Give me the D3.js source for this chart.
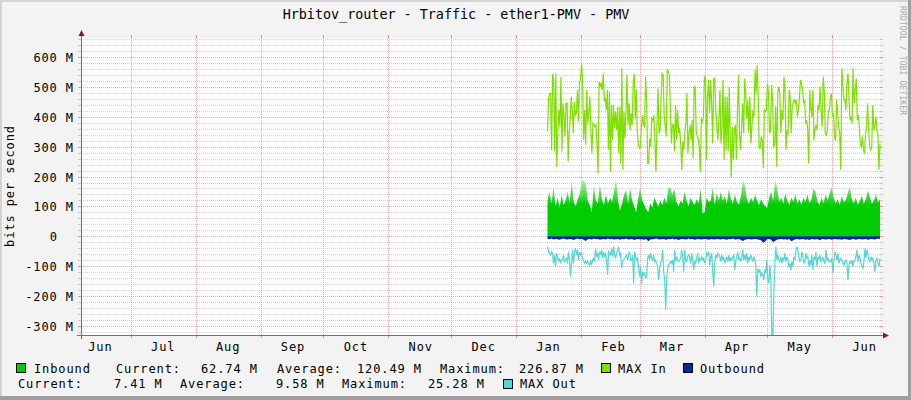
<!DOCTYPE html>
<html><head><meta charset="utf-8">
<script src="https://cdn.jsdelivr.net/npm/d3@7"></script>
<style>
html,body{margin:0;padding:0;background:#f3f3f3;}
svg{display:block;}
text{font-family:"DejaVu Sans Mono",monospace;white-space:pre;}
</style></head><body>
<svg id="c" width="911" height="400"></svg>
<script>
const title = "Hrbitov_router - Traffic - ether1-PMV - PMV";
const yAxisTitle = "bits per second";
const watermark = "RRDTOOL / TOBI OETIKER";
const timeStart = "2018-06-07T05:14:00Z";
const timeEnd = "2019-06-23T19:00:00Z";
const dataStart = "2019-01-16T00:00:00Z";
const dataEnd = "2019-06-23T19:00:00Z";
const yMin = -331.3, yMax = 664.6;           // M bits/s
const yMajorTicks = [-300,-200,-100,0,100,200,300,400,500,600];
const yMinorStep = 20;

// Inbound (M), evenly spaced from dataStart to dataEnd
const inbound = [120,150,110,165,100,130,95,140,105,120,150,110,190,115,100,125,140,190,185,175,
120,105,80,170,120,110,175,125,105,140,110,130,115,150,190,120,85,110,140,155,
110,165,120,100,80,125,165,120,105,90,80,110,95,130,115,100,120,105,130,110,
165,160,140,160,115,100,120,110,150,120,100,130,115,105,125,110,160,75,80,130,
115,120,165,105,145,120,
150,120,135,110,160,125,110,140,115,105,135,190,170,120,110,130,115,140,120,105,
125,110,100,95,130,150,120,190,160,115,130,110,145,120,105,130,115,140,110,125,
105,130,115,140,110,125,160,150,115,105,130,110,140,120,145,165,130,110,125,105,
135,115,120,145,165,125,110,130,105,120,135,110,125,155,130,110,120,140,115,125];

// MAX In (M)
const maxIn = [351,459,479,479,289,544,524,284,546,233,345,423,367,535,284,446,406,334,446,446,
250,345,390,468,423,345,451,406,412,490,384,518,524,580,518,323,423,306,490,379,
412,468,356,278,379,373,367,373,306,211,518,501,513,490,546,457,462,423,490,289,
485,216,440,323,440,362,418,356,434,278,434,244,563,222,418,328,418,541,373,446,
356,412,373,518,544,395,490,345,311,295,300,367,406,373,367,535,457,244,244,328,
300,395,390,406,323,216,373,496,345,356,462,546,541,406,367,334,557,552,541,434,
311,373,373,284,440,323,423,345,362,311,222,317,289,345,379,479,278,345,373,323,
390,261,501,501,351,334,328,300,216,395,384,401,535,529,256,468,524,412,524,446,
311,529,529,423,
367,323,390,490,311,362,524,256,468,289,468,284,501,334,194,367,256,356,373,256,
429,541,345,289,362,446,345,529,479,395,457,345,468,311,367,423,401,557,479,574,
479,295,295,334,323,228,423,418,423,513,485,345,356,507,457,300,306,434,233,485,
501,479,345,423,390,535,490,289,351,345,490,468,345,434,446,457,446,457,401,423,
462,524,513,490,446,457,379,390,356,244,490,429,401,490,323,356,373,356,440,423,
501,418,367,535,490,345,339,356,418,423,468,479,401,412,328,323,457,412,367,345,
222,563,513,457,457,423,513,546,457,390,401,379,563,446,490,529,390,406,367,306,
300,334,289,278,345,367,446,356,300,289,300,440,356,367,401,356,345,222,311];

// Outbound (M, drawn below zero)
const outbound = [9,10,8,11,9,10,12,9,8,10,11,9,10,13,9,8,10,9,12,16,
10,9,11,8,10,9,12,10,9,11,8,10,9,11,10,9,12,9,10,8,
11,10,9,13,10,9,11,10,12,9,17,11,10,9,8,10,11,9,10,12,
9,10,8,11,9,13,10,9,10,11,8,10,9,12,10,9,11,10,9,10,
12,9,10,11,9,10,
11,9,10,12,9,10,8,11,10,9,13,16,12,10,9,11,10,9,10,12,
14,22,18,10,9,12,20,15,11,10,9,11,10,12,9,17,14,10,9,11,
10,9,12,10,13,9,10,11,9,14,10,9,11,10,9,12,10,9,11,10,
12,9,10,11,13,10,9,12,10,9,11,10,9,12,10,9,11,10,8,9];

// MAX Out (M, drawn below zero)
const maxOut = [35,52,57,63,52,57,91,63,102,57,69,85,74,91,80,80,63,85,80,74,
91,52,80,136,91,46,91,52,41,63,46,80,52,63,57,74,80,91,85,91,
85,91,97,85,97,80,74,85,41,69,57,80,52,63,46,74,52,69,57,80,
130,52,57,63,41,69,35,63,74,57,46,35,63,57,108,85,80,74,69,63,
80,63,52,80,80,63,158,52,69,80,74,108,136,102,158,119,130,124,141,130,
74,63,80,57,74,80,63,85,80,91,102,147,108,91,80,46,119,147,247,147,
108,97,91,85,91,80,119,46,85,69,80,85,80,74,46,69,119,46,80,85,
69,63,69,91,57,80,113,85,91,74,57,91,74,80,69,80,74,91,80,57,
63,52,97,69,57,124,169,91,63,74,57,63,69,
85,63,80,69,91,80,69,85,63,85,74,80,69,63,113,85,69,52,80,69,
85,74,46,80,63,80,57,91,69,80,63,74,85,69,80,97,203,108,119,113,
136,124,130,147,113,124,80,147,158,97,147,337,337,192,91,35,80,63,80,85,
69,91,74,80,57,85,69,80,102,91,113,85,102,69,80,52,35,46,69,85,
80,52,69,91,80,57,74,69,102,80,97,63,113,69,80,52,102,69,80,63,
85,80,69,85,91,46,80,74,85,80,85,74,124,80,52,63,80,57,91,80,
74,80,91,97,85,80,91,147,97,85,91,80,102,85,80,69,46,85,63,74,
91,102,108,85,41,74,46,63,80,85,69,80,74,91,119,80,74,91,102,74];

const seriesNames = ["Inbound","MAX In","Outbound","MAX Out"];
const seriesColors = ["#00CC00","#7EE000","#002A97","#55D6D3"];
const inboundStats = ["62.74 M","120.49 M","226.87 M"];
const outboundStats = ["7.41 M","9.58 M","25.28 M"];
const statLabels = ["Current:","Average:","Maximum:"];

const W = 911, H = 400;
const L = 81, R = 880, T = 38, B = 335;
const svg = d3.select("#c");

// frame
svg.append("rect").attr("x",0).attr("y",0).attr("width",W).attr("height",H).attr("fill","#f3f3f3");
svg.append("rect").attr("x",0).attr("y",0).attr("width",W).attr("height",2).attr("fill","#d4d4d4");
svg.append("rect").attr("x",0).attr("y",0).attr("width",2).attr("height",H).attr("fill","#d4d4d4");
svg.append("rect").attr("x",W-3).attr("y",0).attr("width",3).attr("height",H).attr("fill","#9e9e9e");
svg.append("rect").attr("x",0).attr("y",H-4).attr("width",W).attr("height",4).attr("fill","#9e9e9e");

const x = d3.scaleUtc().domain([new Date(timeStart), new Date(timeEnd)]).range([L, R]);
const y = d3.scaleLinear().domain([yMin, yMax]).range([B, T]);

svg.append("rect").attr("x",L).attr("y",T).attr("width",R-L).attr("height",B-T).attr("fill","#ffffff");

const px = v => Math.round(v) + 0.5;
const g = svg.append("g");

// horizontal grid
const minorVals = d3.range(Math.ceil(yMin/yMinorStep)*yMinorStep, yMax, yMinorStep).filter(v => v % 100 !== 0);
minorVals.forEach(v => {
  const yy = px(y(v));
  g.append("line").attr("x1",L).attr("x2",R).attr("y1",yy).attr("y2",yy)
    .attr("stroke","#d2d2d2").attr("stroke-dasharray","1,1");
  g.append("line").attr("x1",L-3).attr("x2",L).attr("y1",yy).attr("y2",yy).attr("stroke","#c8c8c8");
  g.append("line").attr("x1",R).attr("x2",R+3).attr("y1",yy).attr("y2",yy).attr("stroke","#c8c8c8");
});
yMajorTicks.forEach(v => {
  const yy = px(y(v));
  g.append("line").attr("x1",L).attr("x2",R).attr("y1",yy).attr("y2",yy)
    .attr("stroke","#f4a5a5").attr("stroke-dasharray","1,1");
  g.append("line").attr("x1",L-3).attr("x2",L).attr("y1",yy).attr("y2",yy).attr("stroke","#f09090");
  g.append("line").attr("x1",R).attr("x2",R+3).attr("y1",yy).attr("y2",yy).attr("stroke","#f09090");
});

// vertical month grid
const monthTicks = x.ticks(d3.utcMonth.every(1));
monthTicks.forEach(d => {
  const xx = px(x(d));
  g.append("line").attr("x1",xx).attr("x2",xx).attr("y1",T).attr("y2",B)
    .attr("stroke","#f4a5a5").attr("stroke-dasharray","1,1");
  g.append("line").attr("x1",xx).attr("x2",xx).attr("y1",B).attr("y2",B+3).attr("stroke","#f09090");
  g.append("line").attr("x1",xx).attr("x2",xx).attr("y1",T-3).attr("y2",T).attr("stroke","#f09090");
});

// data
const defs = svg.append("defs");
defs.append("clipPath").attr("id","plot").append("rect").attr("x",L).attr("y",T).attr("width",R-L+1).attr("height",B-T);
const grad = defs.append("linearGradient").attr("id","inGrad").attr("gradientUnits","userSpaceOnUse")
  .attr("x1",0).attr("x2",0).attr("y1",y(105)).attr("y2",y(195));
grad.append("stop").attr("offset",0).attr("stop-color",seriesColors[0]);
grad.append("stop").attr("offset",1).attr("stop-color","#c4f2c4");

const dg = svg.append("g").attr("clip-path","url(#plot)");
const t0 = new Date(dataStart).getTime(), t1 = new Date(dataEnd).getTime();
const withTime = arr => arr.map((v,i) => ({t: new Date(t0 + i*(t1-t0)/(arr.length-1)), v}));

const inD = withTime(inbound), maxInD = withTime(maxIn), outD = withTime(outbound), maxOutD = withTime(maxOut);

dg.append("path").datum(inD).attr("fill","url(#inGrad)")
  .attr("d", d3.area().x(d=>x(d.t)).y0(y(0)).y1(d=>y(d.v)));
dg.append("path").datum(maxInD).attr("fill","none").attr("stroke",seriesColors[1]).attr("stroke-width",1.2)
  .attr("d", d3.line().x(d=>x(d.t)).y(d=>y(d.v)));
dg.append("path").datum(outD).attr("fill",seriesColors[2])
  .attr("d", d3.area().x(d=>x(d.t)).y0(y(0)).y1(d=>y(-d.v)));
dg.append("path").datum(maxOutD).attr("fill","none").attr("stroke",seriesColors[3]).attr("stroke-width",1.2)
  .attr("d", d3.line().x(d=>x(d.t)).y(d=>y(-d.v)));

// axes lines
const axisCol = "#707070";
svg.append("line").attr("x1",L-4).attr("x2",R+4).attr("y1",B+0.5).attr("y2",B+0.5).attr("stroke",axisCol);
svg.append("line").attr("x1",L+0.5).attr("x2",L+0.5).attr("y1",T-4).attr("y2",B+4).attr("stroke",axisCol);
const arrowCol = "#8a1c1c";
svg.append("path").attr("d",`M${L-2.5},${T-2} L${L+3.5},${T-2} L${L+0.5},${T-8} Z`).attr("fill",arrowCol);
svg.append("path").attr("d",`M${R+3},${B-2.5} L${R+3},${B+3.5} L${R+9},${B+0.5} Z`).attr("fill",arrowCol);

// y labels
const fmtY = v => v === 0 ? "0  " : `${v/1} M`;
svg.append("g").selectAll("text").data(yMajorTicks).join("text")
  .attr("x",74).attr("y",d=>Math.round(y(d))+4.5).attr("text-anchor","end")
  .attr("font-size",12).attr("letter-spacing",0.9).attr("fill","#000")
  .text(fmtY);

// x labels (month names centred mid-month)
const fmtM = d3.utcFormat("%b");
const months = d3.utcMonth.range(d3.utcMonth.floor(x.domain()[0]), x.domain()[1]);
svg.append("g").selectAll("text").data(months.filter(m => {
    const c = d3.utcDay.offset(m, 15); return c >= x.domain()[0] && c <= x.domain()[1]; }))
  .join("text")
  .attr("x", m => x(d3.utcDay.offset(m, 15)) + 1).attr("y", 351).attr("text-anchor","middle")
  .attr("font-size",12).attr("letter-spacing",0.9).attr("fill","#000").text(fmtM);

// title
svg.append("text").attr("x",456).attr("y",19).attr("text-anchor","middle")
  .attr("font-size",13.4).attr("fill","#000").text(title);

// y axis title
svg.append("text").attr("transform",`translate(14,186) rotate(-90)`).attr("text-anchor","middle")
  .attr("font-size",12).attr("letter-spacing",0.9).attr("fill","#000").text(yAxisTitle);

// watermark
svg.append("text").attr("transform",`translate(900,6) rotate(90)`).attr("text-anchor","start")
  .attr("font-size",8).attr("letter-spacing",0.15).attr("fill","#a8a8a8").text(watermark);

// legend
const lg = svg.append("g").attr("font-size",12).attr("letter-spacing",0.9).attr("fill","#000");
const swatch = (sx, sy, col) => lg.append("rect").attr("x",sx+0.5).attr("y",sy+0.5).attr("width",9).attr("height",9)
  .attr("fill",col).attr("stroke","#000").attr("stroke-width",1);
const txt = (tx, ty, s) => lg.append("text").attr("x",tx).attr("y",ty).text(s);
const y1 = 373, y2 = 388;
swatch(16, 363, seriesColors[0]);
txt(34, y1, seriesNames[0]);
txt(116, y1, statLabels[0]); txt(201, y1, inboundStats[0]);
txt(277, y1, statLabels[1]); txt(357, y1, inboundStats[1]);
txt(440, y1, statLabels[2]); txt(519, y1, inboundStats[2]);
swatch(601, 363, seriesColors[1]); txt(618, y1, seriesNames[1]);
swatch(683, 363, seriesColors[2]); txt(700, y1, seriesNames[2]);
txt(18, y2, statLabels[0]); txt(114, y2, outboundStats[0]);
txt(180, y2, statLabels[1]); txt(276, y2, outboundStats[1]);
txt(342, y2, statLabels[2]); txt(428, y2, outboundStats[2]);
swatch(503, 379, seriesColors[3]); txt(520, y2, seriesNames[3]);
</script>
</body></html>
